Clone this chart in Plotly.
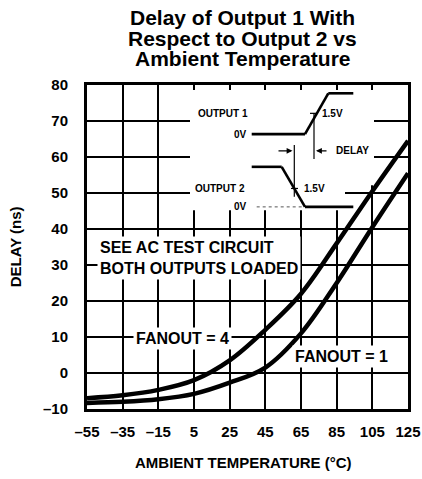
import plotly.graph_objects as go

# ---- data ----
temps = [-55, -35, -15, 5, 25, 45, 65, 85, 105, 125]
fanout4 = [-7.0, -6.2, -4.7, -2.0, 3.5, 12.0, 22.0, 36.0, 50.5, 64.5]
fanout1 = [-8.3, -8.0, -7.3, -5.8, -2.7, 1.5, 11.0, 25.0, 40.5, 55.5]

x_ticks = [-55, -35, -15, 5, 25, 45, 65, 85, 105, 125]
x_ticktext = ["\u201355", "\u201335", "\u201315", "5", "25", "45", "65", "85", "105", "125"]
y_ticks = [-10, 0, 10, 20, 30, 40, 50, 60, 70, 80]
y_ticktext = ["\u201310", "0", "10", "20", "30", "40", "50", "60", "70", "80"]

FONT = "Liberation Sans, Arial, sans-serif"

# pixel -> data helpers for the decorative inset (plot area 87..408 x, 85..408.5 y)
def X(px):
    return -55 + (px - 87) * 180 / 321

def Y(py):
    return -10 + (408.5 - py) * 90 / 323.5

fig = go.Figure()
fig.add_trace(go.Scatter(x=temps, y=fanout4, mode="lines", name="FANOUT = 4",
                         line=dict(color="black", width=4.5, shape="spline", smoothing=1.0)))
fig.add_trace(go.Scatter(x=temps, y=fanout1, mode="lines", name="FANOUT = 1",
                         line=dict(color="black", width=4.5, shape="spline", smoothing=1.0)))

shapes = []
# white masks for the inset (between grid and traces)
shapes.append(dict(type="rect", xref="x", yref="y", layer="between",
                   x0=X(190), x1=X(345), y0=Y(210), y1=Y(90),
                   fillcolor="white", line=dict(width=0)))
shapes.append(dict(type="rect", xref="x", yref="y", layer="between",
                   x0=X(344), x1=X(374), y0=Y(185), y1=Y(90),
                   fillcolor="white", line=dict(width=0)))

def seg(p0, p1, w=2.6, dash="solid", color="black"):
    shapes.append(dict(type="line", xref="x", yref="y", layer="above",
                       x0=X(p0[0]), y0=Y(p0[1]), x1=X(p1[0]), y1=Y(p1[1]),
                       line=dict(color=color, width=w, dash=dash)))

# Output 1 waveform
seg((251.7, 134), (305, 134))
seg((305, 134), (328.3, 93.3))
seg((328.3, 93.3), (353.3, 93.3))
# Output 2 waveform
seg((251.7, 166.7), (281.7, 166.7))
seg((281.7, 166.7), (305, 206.7))
seg((305, 206.7), (353.3, 206.7))
# dotted 0V reference
seg((256.7, 206.7), (303, 206.7), w=1, dash="dot", color="#555")
# 1.5V markers
seg((310, 113.3), (317, 113.3), w=1.2)
seg((291, 188.3), (298, 188.3), w=1.2)
# delay reference verticals
seg((314, 113), (314, 159), w=1.2)
seg((294.3, 145), (294.3, 196.7), w=1.2)

annotations = []
# delay arrows
annotations.append(dict(x=X(316), y=Y(150.7), ax=X(328), ay=Y(150.7), xref="x", yref="y",
                        axref="x", ayref="y", text="", showarrow=True, arrowhead=2,
                        arrowsize=0.9, arrowwidth=1.3, arrowcolor="black"))
annotations.append(dict(x=X(292.5), y=Y(150.7), ax=X(277), ay=Y(150.7), xref="x", yref="y",
                        axref="x", ayref="y", text="", showarrow=True, arrowhead=2,
                        arrowsize=0.9, arrowwidth=1.3, arrowcolor="black"))

def label(text, px, py, size, xanchor="center", yanchor="middle", bg=None, align="center", pad=1):
    d = dict(x=X(px), y=Y(py), xref="x", yref="y", text=text, showarrow=False,
             xanchor=xanchor, yanchor=yanchor, align=align,
             font=dict(family=FONT, size=size, color="black", weight="bold"))
    if bg:
        d["bgcolor"] = bg
        d["borderpad"] = pad
    annotations.append(d)

# inset labels
label("OUTPUT 1", 250, 113.3, 10, xanchor="right")
label("0V", 248.5, 134, 10, xanchor="right")
label("1.5V", 320, 113.3, 10, xanchor="left")
label("DELAY", 334, 150.7, 10, xanchor="left")
label("OUTPUT 2", 247, 188.3, 10, xanchor="right")
label("1.5V", 302, 188.3, 10, xanchor="left")
label("0V", 248.5, 206.7, 10, xanchor="right")

# in-plot notes
label("SEE AC TEST CIRCUIT<br>BOTH OUTPUTS LOADED", 97, 258, 16, xanchor="left",
      bg="white", align="left", pad=2)
label("FANOUT = 4", 182.5, 338, 16, bg="white", pad=2)
label("FANOUT = 1", 341.5, 356, 16, bg="white", pad=2)

# title lines
def paper_title(text, py):
    annotations.append(dict(x=(242.5 - 87) / 321, y=(408.5 - py) / 323.5, xref="paper", yref="paper",
                            text=text, showarrow=False, xanchor="center", yanchor="middle",
                            font=dict(family=FONT, size=21, color="black", weight="bold")))

paper_title("Delay of Output 1 With", 17.5)
paper_title("Respect to Output 2 vs", 38.5)
paper_title("Ambient Temperature", 59)

# axis titles
annotations.append(dict(x=(243.5 - 87) / 321, y=(408.5 - 462) / 323.5, xref="paper", yref="paper",
                        text="AMBIENT TEMPERATURE (\u00b0C)", showarrow=False,
                        xanchor="center", yanchor="middle",
                        font=dict(family=FONT, size=15, color="black", weight="bold")))
annotations.append(dict(x=(15 - 87) / 321, y=(408.5 - 247) / 323.5, xref="paper", yref="paper",
                        text="DELAY (ns)", showarrow=False, textangle=-90,
                        xanchor="center", yanchor="middle",
                        font=dict(family=FONT, size=15, color="black", weight="bold")))

fig.update_layout(
    width=422, height=479,
    margin=dict(l=87, r=14, t=85, b=70, autoexpand=False),
    paper_bgcolor="white", plot_bgcolor="white",
    showlegend=False,
    shapes=shapes, annotations=annotations,
    font=dict(family=FONT, color="black"),
)
fig.update_xaxes(range=[-55, 125], tickvals=x_ticks, ticktext=x_ticktext, automargin=False,
                 showgrid=True, gridcolor="black", gridwidth=1.5, zeroline=False,
                 showline=True, mirror=True, linecolor="black", linewidth=3,
                 ticks="outside", ticklen=7, tickcolor="rgba(0,0,0,0)",
                 tickfont=dict(family=FONT, size=15, color="black", weight="bold"))
fig.update_yaxes(range=[-10, 80], tickvals=y_ticks, ticktext=y_ticktext, automargin=False,
                 showgrid=True, gridcolor="black", gridwidth=1.5, zeroline=False,
                 showline=True, mirror=True, linecolor="black", linewidth=3,
                 ticks="outside", ticklen=13, tickcolor="rgba(0,0,0,0)",
                 tickfont=dict(family=FONT, size=15, color="black", weight="bold"))

fig.write_html("out.html", config={"displayModeBar": False},
               post_script="document.body.style.margin='0px';document.body.style.padding='0px';")
